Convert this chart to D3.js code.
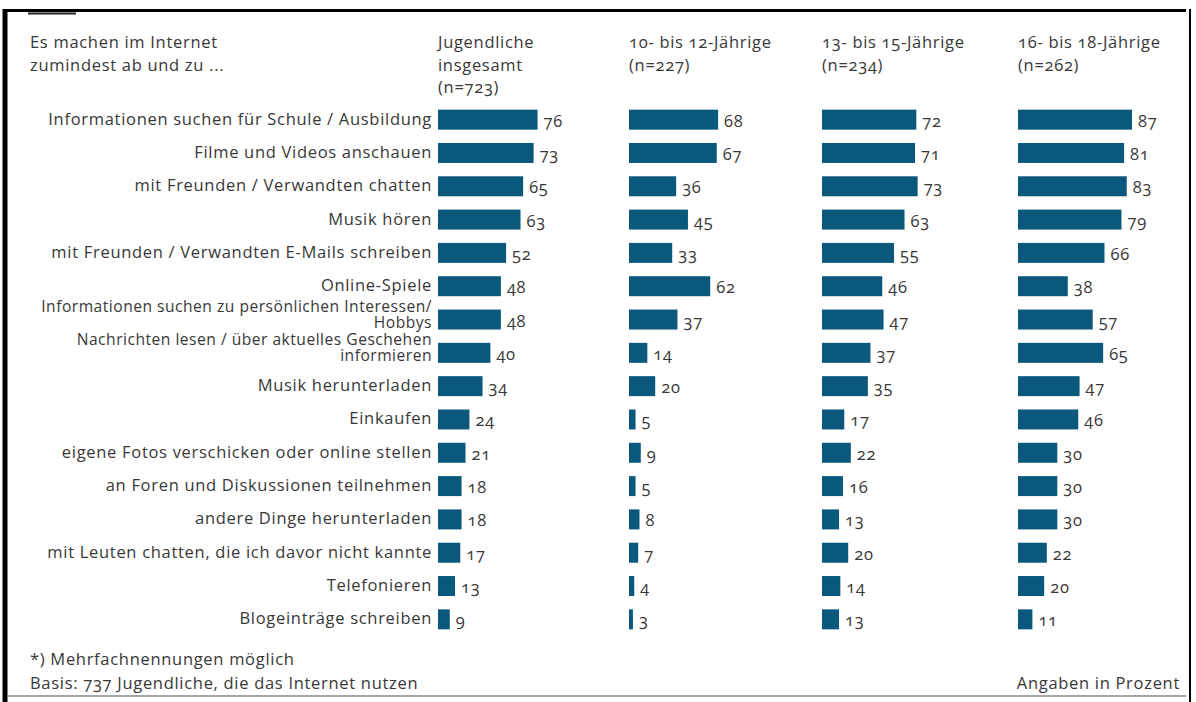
<!DOCTYPE html>
<html>
<head>
<meta charset="utf-8">
<script src="https://cdn.jsdelivr.net/npm/d3@7"></script>
<style>
  html, body { margin: 0; padding: 0; background: #fff; }
  svg { display: block; }
  text { font-family: "Open Sans", "Noto Sans", sans-serif; fill: #383838; letter-spacing: 0.7px; font-variant-numeric: oldstyle-nums; }
</style>
</head>
<body>
<svg id="chart" width="1196" height="702"></svg>
<script>
// ---- data ----
const categories = [
  ["Informationen suchen für Schule / Ausbildung"],
  ["Filme und Videos anschauen"],
  ["mit Freunden / Verwandten chatten"],
  ["Musik hören"],
  ["mit Freunden / Verwandten E-Mails schreiben"],
  ["Online-Spiele"],
  ["Informationen suchen zu persönlichen Interessen/", "Hobbys"],
  ["Nachrichten lesen / über aktuelles Geschehen", "informieren"],
  ["Musik herunterladen"],
  ["Einkaufen"],
  ["eigene Fotos verschicken oder online stellen"],
  ["an Foren und Diskussionen teilnehmen"],
  ["andere Dinge herunterladen"],
  ["mit Leuten chatten, die ich davor nicht kannte"],
  ["Telefonieren"],
  ["Blogeinträge schreiben"]
];
const groupHeaders = [
  ["Jugendliche", "insgesamt", "(n=723)"],
  ["10- bis 12-Jährige", "(n=227)"],
  ["13- bis 15-Jährige", "(n=234)"],
  ["16- bis 18-Jährige", "(n=262)"]
];
const valuesTotal = [76, 73, 65, 63, 52, 48, 48, 40, 34, 24, 21, 18, 18, 17, 13, 9];
const values10to12 = [68, 67, 36, 45, 33, 62, 37, 14, 20, 5, 9, 5, 8, 7, 4, 3];
const values13to15 = [72, 71, 73, 63, 55, 46, 47, 37, 35, 17, 22, 16, 13, 20, 14, 13];
const values16to18 = [87, 81, 83, 79, 66, 38, 57, 65, 47, 46, 30, 30, 30, 22, 20, 11];
const series = [valuesTotal, values10to12, values13to15, values16to18];
const questionLines = ["Es machen im Internet", "zumindest ab und zu ..."];
const footnotes = ["*) Mehrfachnennungen möglich", "Basis: 737 Jugendliche, die das Internet nutzen"];
const unitNote = "Angaben in Prozent";

// ---- layout ----
const svg = d3.select("#chart");
const barColor = "#0a587c";
const panelX = [438, 629, 822, 1018];
const FS = 16.5;

const y = d3.scaleBand()
  .domain(d3.range(categories.length))
  .range([103, 636])
  .paddingInner(0.4)
  .paddingOuter(0.2);
const x = d3.scaleLinear().domain([0, 100]).range([0, 131]);

// frame
svg.append("line").attr("x1", 5).attr("x2", 5).attr("y1", 9).attr("y2", 702)
  .attr("stroke", "#000").attr("stroke-width", 5);
svg.append("line").attr("x1", 3).attr("x2", 1186).attr("y1", 10.5).attr("y2", 10.5)
  .attr("stroke", "#000").attr("stroke-width", 3);
svg.append("line").attr("x1", 1190).attr("x2", 1190).attr("y1", 9).attr("y2", 702)
  .attr("stroke", "#000").attr("stroke-width", 2);
svg.append("line").attr("x1", 28).attr("x2", 76).attr("y1", 13.5).attr("y2", 13.5)
  .attr("stroke", "#222").attr("stroke-width", 2);
svg.append("line").attr("x1", 8).attr("x2", 1186).attr("y1", 696).attr("y2", 696)
  .attr("stroke", "#888").attr("stroke-width", 1.5);

// question header
svg.append("g").selectAll("text").data(questionLines).join("text")
  .attr("x", 30).attr("y", (d, i) => 48 + i * 22.5)
  .attr("font-size", FS).text(d => d);

// group headers
groupHeaders.forEach((lines, gi) => {
  svg.append("g").selectAll("text").data(lines).join("text")
    .attr("x", panelX[gi]).attr("y", (d, i) => 48 + i * 22.5)
    .attr("font-size", FS).text(d => d);
});

// category labels
const catG = svg.append("g");
categories.forEach((lines, i) => {
  const cy = y(i) + y.bandwidth() / 2;
  const n = lines.length;
  lines.forEach((ln, j) => {
    catG.append("text")
      .attr("x", 432)
      .attr("y", n === 1 ? cy + 5 : cy - 8 + j * 16)
      .attr("text-anchor", "end")
      .attr("font-size", n === 1 ? FS : 15.6)
      .style("letter-spacing", n === 1 ? null : "0.5px")
      .text(ln);
  });
});

// bars
series.forEach((vals, si) => {
  const g = svg.append("g").attr("transform", `translate(${panelX[si]},0)`);
  g.selectAll("rect").data(vals).join("rect")
    .attr("x", 0)
    .attr("y", (d, i) => y(i))
    .attr("width", d => x(d))
    .attr("height", y.bandwidth())
    .attr("fill", barColor);
  g.selectAll("text").data(vals).join("text")
    .attr("x", d => x(d) + 6)
    .attr("y", (d, i) => y(i) + y.bandwidth() / 2 + 7)
    .attr("font-size", FS)
    .text(d => d);
});

// footnotes
svg.append("g").selectAll("text").data(footnotes).join("text")
  .attr("x", 30).attr("y", (d, i) => 665 + i * 24)
  .attr("font-size", FS).text(d => d);
svg.append("text").attr("x", 1180).attr("y", 689)
  .attr("text-anchor", "end").attr("font-size", FS).text(unitNote);
</script>
</body>
</html>
